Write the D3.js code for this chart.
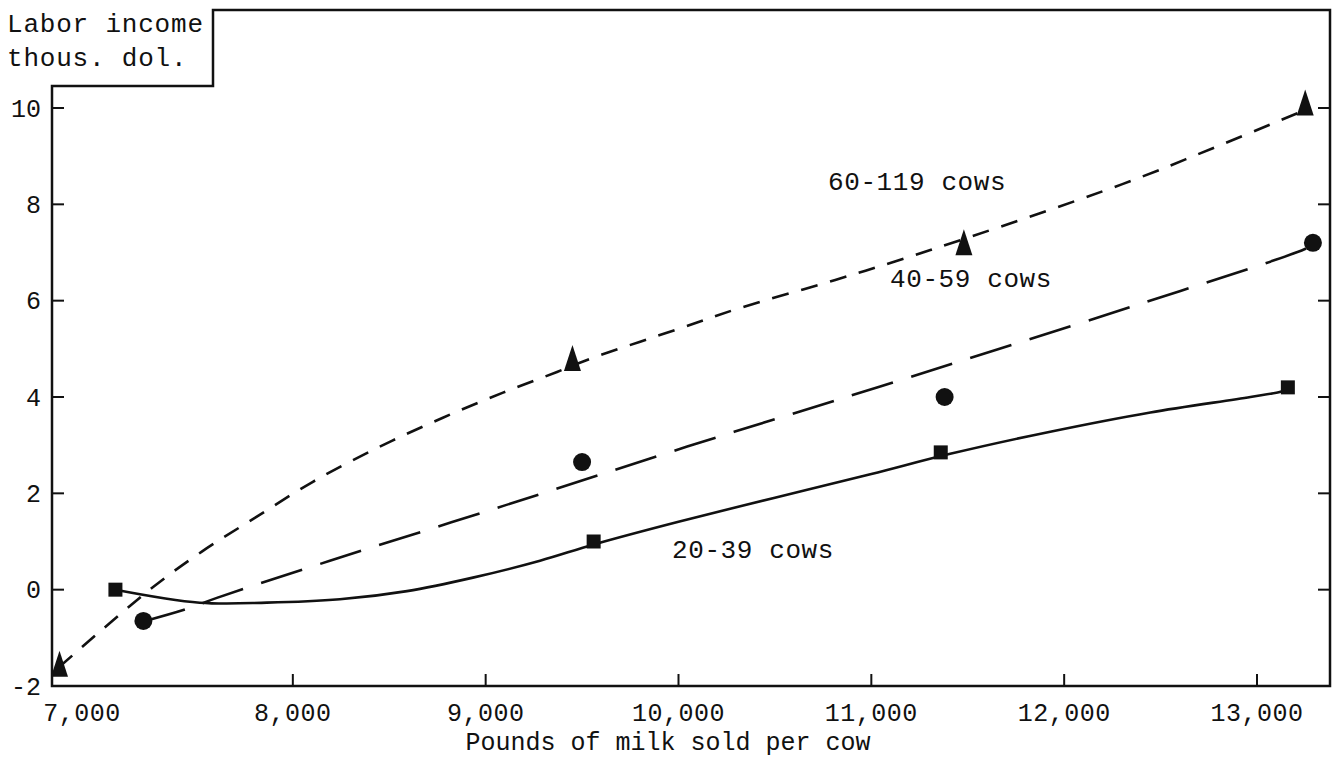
<!DOCTYPE html>
<html>
<head>
<meta charset="utf-8">
<script src="https://cdn.jsdelivr.net/npm/d3@7"></script>
<style>
	body { margin: 0; background: #fff; }
	text { font-family: "Liberation Mono", "DejaVu Sans Mono", monospace; fill: #111; }
</style>
</head>
<body>
<script>
// axis ticks
var xTicks = [7000, 8000, 9000, 10000, 11000, 12000, 13000],
	yTicks = [-2, 0, 2, 4, 6, 8, 10];

// plotted points (pounds of milk sold per cow, labor income in thous. dol.)
var milk60 = [6790, 9450, 11480, 13250],
	income60 = [-1.6, 4.75, 7.15, 10.05],
	milk40 = [7225, 9500, 11380, 13290],
	income40 = [-0.65, 2.65, 4.0, 7.2],
	milk20 = [7080, 9560, 11360, 13160],
	income20 = [0.0, 1.0, 2.85, 4.2];

// fitted curves
var curveMilk60 = [6790, 7258, 7528, 7803, 8104, 8441, 8778, 9090, 9370, 9526, 10018, 10320, 10813, 11306, 12302, 12774, 13226],
	curveIncome60 = [-1.6, 0.0, 0.79, 1.49, 2.24, 2.95, 3.57, 4.09, 4.52, 4.77, 5.44, 5.85, 6.43, 7.05, 8.42, 9.17, 9.92],
	curveMilk40 = [7225, 7450, 7606, 8192, 9100, 10045, 11046, 12354, 13210, 13290],
	curveIncome40 = [-0.66, -0.40, -0.17, 0.6, 1.75, 2.97, 4.22, 5.88, 7.01, 7.15],
	curveMilk20 = [7080, 7517, 7865, 8244, 8592, 8934, 9282, 9562, 10000, 10500, 11000, 11409, 11928, 12447, 12966, 13122, 13158],
	curveIncome20 = [0.0, -0.27, -0.27, -0.2, -0.03, 0.25, 0.6, 0.94, 1.41, 1.91, 2.4, 2.82, 3.28, 3.68, 4.0, 4.11, 4.17];

var seriesNames = ['60-119 cows', '40-59 cows', '20-39 cows'];

// sizing
var W = 1333, H = 759,
	padL = 52, padR = 1330, padB = 686, padT = 10, stepTop = 86, stepX = 213,
	tickLen = 12;

var svg = d3.select('body').append('svg')
	.attr('width', W)
	.attr('height', H);

var x = d3.scaleLinear().domain([7000, 13000]).range([100, 1257]);
var y = d3.scaleLinear().domain([-2, 10]).range([686, 108]);

// frame with the stepped top left corner
svg.append('path')
	.attr('d', 'M' + padL + ',' + padB + 'V' + stepTop + 'H' + stepX + 'V' + padT + 'H' + padR + 'V' + padB + 'Z')
	.attr('fill', 'none')
	.attr('stroke', '#111')
	.attr('stroke-width', 2.5);

// ticks pointing inwards
var g = svg.append('g').attr('stroke', '#111').attr('stroke-width', 2);
yTicks.filter(function(d) { return d > -2; }).forEach(function(d) {
	g.append('line').attr('x1', padL).attr('x2', padL + tickLen).attr('y1', y(d)).attr('y2', y(d));
	g.append('line').attr('x1', padR).attr('x2', padR - tickLen).attr('y1', y(d)).attr('y2', y(d));
});
xTicks.filter(function(d) { return d > 7000; }).forEach(function(d) {
	g.append('line').attr('x1', x(d)).attr('x2', x(d)).attr('y1', padB).attr('y2', padB - tickLen);
});

// tick labels
svg.selectAll('.ylab').data(yTicks).enter().append('text')
	.attr('x', 41)
	.attr('y', function(d) { return y(d); })
	.attr('dy', '0.35em')
	.attr('text-anchor', 'end')
	.attr('font-size', 25)
	.text(function(d) { return d; });

svg.selectAll('.xlab').data(xTicks).enter().append('text')
	.attr('x', function(d) { return x(d); })
	.attr('dx', function(d, i) { return i == 0 ? -18 : 0; })
	.attr('y', 721)
	.attr('text-anchor', 'middle')
	.attr('font-size', 25)
	.attr('letter-spacing', 0.5)
	.text(function(d) { return d3.format(',')(d); });

// axis titles
svg.append('text').attr('x', 7).attr('y', 32).attr('font-size', 26).attr('letter-spacing', 0.8).text('Labor income');
svg.append('text').attr('x', 7).attr('y', 66).attr('font-size', 26).attr('letter-spacing', 0.8).text('thous. dol.');
svg.append('text').attr('x', 668).attr('y', 750).attr('text-anchor', 'middle')
	.attr('font-size', 25).text('Pounds of milk sold per cow');

// curves
var line = d3.line()
	.x(function(d) { return x(d[0]); })
	.y(function(d) { return y(d[1]); })
	.curve(d3.curveCatmullRom.alpha(0.5));

var curves = [
	{ pts: d3.zip(curveMilk60, curveIncome60), dash: '17,13' },
	{ pts: d3.zip(curveMilk40, curveIncome40), dash: '43,19' },
	{ pts: d3.zip(curveMilk20, curveIncome20), dash: null }
];
curves.forEach(function(c) {
	svg.append('path')
		.attr('d', line(c.pts))
		.attr('fill', 'none')
		.attr('stroke', '#111')
		.attr('stroke-width', 2.6)
		.attr('stroke-dasharray', c.dash);
});

// markers
d3.zip(milk60, income60).forEach(function(d) {
	var cx = x(d[0]), cy = y(d[1]);
	svg.append('path')
		.attr('d', 'M' + cx + ',' + (cy - 16) + 'L' + (cx + 8.5) + ',' + (cy + 10) + 'L' + (cx - 8.5) + ',' + (cy + 10) + 'Z')
		.attr('fill', '#111');
});
d3.zip(milk40, income40).forEach(function(d) {
	svg.append('circle')
		.attr('cx', x(d[0]))
		.attr('cy', y(d[1]))
		.attr('r', 9)
		.attr('fill', '#111');
});
d3.zip(milk20, income20).forEach(function(d) {
	svg.append('rect')
		.attr('x', x(d[0]) - 7)
		.attr('y', y(d[1]) - 7)
		.attr('width', 14)
		.attr('height', 14)
		.attr('fill', '#111');
});

// series labels
var labelPos = [[828, 190], [890, 287], [672, 558]];
seriesNames.forEach(function(n, i) {
	svg.append('text')
		.attr('x', labelPos[i][0])
		.attr('y', labelPos[i][1])
		.attr('font-size', 26)
		.attr('letter-spacing', 0.6)
		.text(n);
});
</script>
</body>
</html>
